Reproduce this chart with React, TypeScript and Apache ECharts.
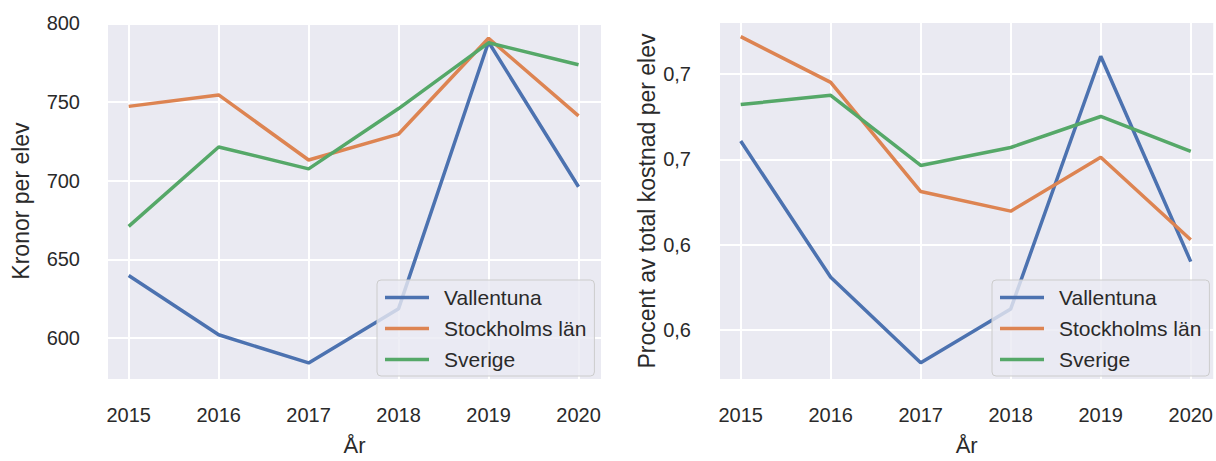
import React, { useEffect, useRef } from "react";
import * as echarts from "echarts";

const years = [2015, 2016, 2017, 2018, 2019, 2020];
const seriesNames = ["Vallentuna", "Stockholms län", "Sverige"];
const colors = ["#4C72B0", "#DD8452", "#55A868"];

// Left: Kronor per elev
const kronorVallentuna = [639.7, 602.0, 584.1, 618.6, 788.1, 696.1];
const kronorStockholm = [747.2, 754.5, 713.1, 729.6, 790.5, 741.2];
const kronorSverige = [670.9, 721.4, 707.5, 745.8, 787.6, 773.7];

// Right: Procent av total kostnad per elev
const procentVallentuna = [0.6608, 0.5809, 0.5308, 0.5624, 0.7105, 0.5901];
const procentStockholm = [0.722, 0.6952, 0.6312, 0.6197, 0.6513, 0.6029];
const procentSverige = [0.6822, 0.6876, 0.6465, 0.657, 0.6752, 0.6547];

const leftTicks = [600, 650, 700, 750, 800];
const leftTickLabels = ["600", "650", "700", "750", "800"];
const rightTicks = [0.55, 0.6, 0.65, 0.7];
const rightTickLabels = ["0,6", "0,6", "0,7", "0,7"];

const leftTitle = "Kronor per elev";
const rightTitle = "Procent av total kostnad per elev";
const xTitle = "År";

const FONT = "Liberation Sans, Arial, Helvetica, sans-serif";
const TEXT = "#2a2a2a";

function pairs(vals: number[]) {
  return years.map((y, i) => [y, vals[i]]);
}

function labelFor(ticks: number[], labels: string[]) {
  return (v: number) => {
    const i = ticks.findIndex((t) => Math.abs(t - v) < 1e-6);
    return i >= 0 ? labels[i] : "";
  };
}

export default function App() {
  const ref = useRef<HTMLDivElement>(null);
  useEffect(() => {
    if (!ref.current) return;
    const chart = echarts.init(ref.current, undefined, { renderer: "svg" });
    const xAxisBase = (gridIndex: number) => ({
      type: "value" as const,
      gridIndex,
      min: 2014.77,
      max: 2020.25,
      name: xTitle,
      nameLocation: "middle" as const,
      nameGap: 55,
      nameTextStyle: { fontSize: 22, color: TEXT, fontFamily: FONT },
      axisLine: { show: false },
      axisTick: { show: false, customValues: years },
      axisLabel: {
        customValues: years,
        margin: 26,
        fontSize: 20,
        color: TEXT,
        fontFamily: FONT,
        formatter: (v: number) => String(Math.round(v)),
      },
      splitLine: { show: true, lineStyle: { color: "#ffffff", width: 2 } },
    });
    const legendBase = (left: number) => ({
      orient: "vertical" as const,
      left,
      top: 280,
      data: seriesNames,
      icon: "rect",
      itemWidth: 44,
      itemHeight: 3.5,
      itemGap: 10,
      padding: [7, 8, 6, 8],
      backgroundColor: "rgba(234,234,242,0.8)",
      borderColor: "#cccccc",
      borderWidth: 1,
      borderRadius: 4,
      textStyle: { fontSize: 21, lineHeight: 21, color: TEXT, fontFamily: FONT, padding: [0, 0, 0, 10] },
    });
    const mk = (name: string, vals: number[], idx: number, color: string) => ({
      type: "line" as const,
      name,
      data: pairs(vals),
      xAxisIndex: idx,
      yAxisIndex: idx,
      symbol: "none",
      showSymbol: false,
      lineStyle: { color, width: 3.5 },
      itemStyle: { color },
      z: 3,
    });
    chart.setOption({
      animation: false,
      textStyle: { fontFamily: FONT },
      grid: [
        { left: 108, top: 23, width: 493, height: 363, show: true, backgroundColor: "#EAEAF2", borderWidth: 0 },
        { left: 720, top: 23, width: 494, height: 363, show: true, backgroundColor: "#EAEAF2", borderWidth: 0 },
      ],
      xAxis: [xAxisBase(0), xAxisBase(1)],
      yAxis: [
        {
          type: "value",
          gridIndex: 0,
          min: 573.9,
          max: 800.2,
          name: leftTitle,
          nameLocation: "middle",
          nameGap: 76,
          nameTextStyle: { fontSize: 23, color: TEXT, fontFamily: FONT },
          axisLine: { show: false },
          axisTick: { show: false, customValues: leftTicks },
          axisLabel: {
            customValues: leftTicks,
            margin: 28,
            fontSize: 20,
            color: TEXT,
            fontFamily: FONT,
            formatter: labelFor(leftTicks, leftTickLabels),
          },
          splitLine: { show: true, lineStyle: { color: "#ffffff", width: 2 } },
        },
        {
          type: "value",
          gridIndex: 1,
          min: 0.5213,
          max: 0.73,
          name: rightTitle,
          nameLocation: "middle",
          nameGap: 62,
          nameTextStyle: { fontSize: 23, color: TEXT, fontFamily: FONT },
          axisLine: { show: false },
          axisTick: { show: false, customValues: rightTicks },
          axisLabel: {
            customValues: rightTicks,
            margin: 29,
            fontSize: 20,
            color: TEXT,
            fontFamily: FONT,
            formatter: labelFor(rightTicks, rightTickLabels),
          },
          splitLine: { show: true, lineStyle: { color: "#ffffff", width: 2 } },
        },
      ],
      legend: [legendBase(377), legendBase(992)],
      series: [
        mk(seriesNames[0], kronorVallentuna, 0, colors[0]),
        mk(seriesNames[1], kronorStockholm, 0, colors[1]),
        mk(seriesNames[2], kronorSverige, 0, colors[2]),
        mk(seriesNames[0], procentVallentuna, 1, colors[0]),
        mk(seriesNames[1], procentStockholm, 1, colors[1]),
        mk(seriesNames[2], procentSverige, 1, colors[2]),
      ],
    });
    return () => chart.dispose();
  }, []);
  return (
    <div
      ref={ref}
      style={{ position: "fixed", left: 0, top: 0, width: 1216, height: 461, background: "#ffffff" }}
    />
  );
}
